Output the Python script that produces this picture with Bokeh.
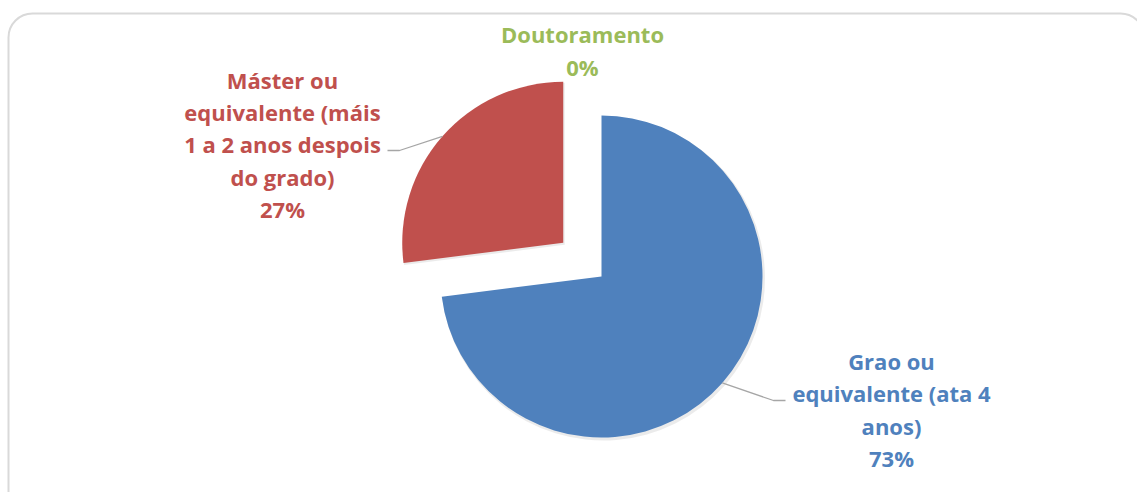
import math
from bokeh.plotting import figure
from bokeh.models import Range1d
from bokeh.core.properties import value
from bokeh.embed import file_html
from bokeh.resources import INLINE

# ---- data ----
categories = ["Grao ou equivalente (ata 4 anos)",
              "Máster ou equivalente (máis 1 a 2 anos despois do grado)",
              "Doutoramento"]
label_names = ["Grao ou\nequivalente (ata 4\nanos)",
               "Máster ou\nequivalente (máis\n1 a 2 anos despois\ndo grado)",
               "Doutoramento"]
values = [73, 27, 0]
colors = ["#4F81BD", "#C0504D", "#9BBB59"]
explode = [0, 51, 0]

# ---- layout ----
W, H = 1137, 492
cx, cy, R = 601, 216, 161
label_pos = [(891, 83), (282, 348), (582, 442)]
elbows = [[(773, 92), (785, 92)], [(399, 342), (387, 342)], None]

p = figure(width=W, height=H, x_range=Range1d(0, W), y_range=Range1d(0, H),
           output_backend="svg", toolbar_location=None, min_border=0)
p.axis.visible = False
p.grid.visible = False
p.outline_line_color = None
p.background_fill_color = "white"
p.border_fill_color = "white"

# chart area frame
p.quad(left=8, right=1144, top=479, bottom=-30, fill_color="white",
       line_color="#D9D9D9", line_width=2, border_radius=24)

total = sum(values)
start = 90.0
for i, v in enumerate(values):
    sweep = 360.0 * v / total
    end = start
    st = start - sweep
    mid = math.radians((st + end) / 2)
    ox = cx + explode[i] * math.cos(mid)
    oy = cy + explode[i] * math.sin(mid)
    if v > 0:
        # soft shadow
        p.wedge(x=[ox + 1.5], y=[oy - 2], radius=R + 1, start_angle=math.radians(st),
                end_angle=math.radians(end), fill_color="black", fill_alpha=0.08,
                line_color=None)
        p.wedge(x=[ox], y=[oy], radius=R, start_angle=math.radians(st),
                end_angle=math.radians(end), fill_color=colors[i], line_color=None)
    if elbows[i] is not None:
        ax = ox + R * math.cos(mid)
        ay = oy + R * math.sin(mid)
        xs = [ax] + [e[0] for e in elbows[i]]
        ys = [ay] + [e[1] for e in elbows[i]]
        p.line(xs, ys, line_color="#A6A6A6", line_width=1.3)
    pct = f"{round(100 * v / total)}%"
    lx, ly = label_pos[i]
    p.text(x=[lx], y=[ly], text=[label_names[i] + "\n" + pct],
           text_align="center", text_baseline="middle",
           text_font=value("Open Sans"), text_font_style="bold",
           text_font_size="22px", text_color=colors[i], text_line_height=1.08)
    start = st

open("out.html", "w").write(file_html(p, INLINE))
